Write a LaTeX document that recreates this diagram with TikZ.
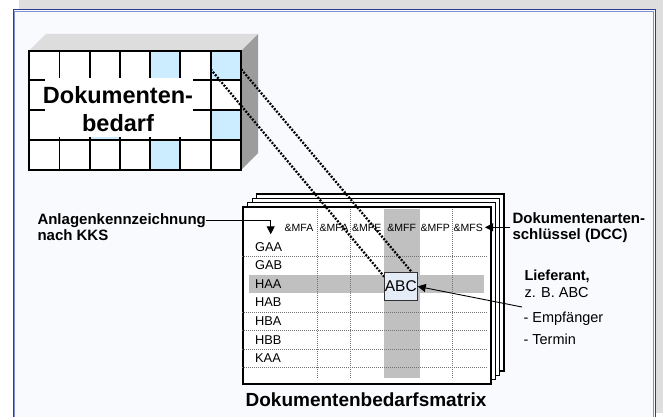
\documentclass[tikz,border=0pt]{standalone}
\usepackage{fontspec}
\setmainfont{Liberation Sans}
\usetikzlibrary{arrows.meta}
\definecolor{framebg}{HTML}{F9FAFE}
\definecolor{frameblue}{HTML}{2E3D8F}
\definecolor{framelight}{HTML}{8090D0}
\definecolor{shadowgray}{HTML}{DEDEDE}
\definecolor{cellblue}{HTML}{CCECFF}
\definecolor{topface}{HTML}{DDDDDD}
\definecolor{sideface}{HTML}{9C9C9C}
\definecolor{bandgray}{HTML}{C0C0C0}
\definecolor{abcfill}{HTML}{E4ECF8}
\begin{document}
\begin{tikzpicture}[x=1pt,y=-1pt,
  gridline/.style={black,line width=1.1pt},
  matline/.style={black!55,line width=0.6pt,dash pattern=on 1pt off 1pt},
  sheet/.style={draw=black,fill=white,line width=1.1pt},
  chain/.style={black,line width=2.3pt,line cap=butt,dash pattern=on 1.9pt off 1.5pt},
  conn/.style={black,line width=0.9pt,-{Triangle[length=8pt,width=8pt]}},
  hdr/.style={font=\fontsize{10.5}{12}\selectfont,inner sep=0pt,anchor=base},
  rowlbl/.style={font=\fontsize{12.8}{14}\selectfont,inner sep=0pt,anchor=base west},
  lbl/.style={font=\bfseries\fontsize{15}{15.8}\selectfont,inner sep=0pt,align=left,anchor=north west},
  side/.style={inner sep=0pt,align=left,anchor=north west},
]
\useasboundingbox (0,0) rectangle (663,417);
\fill[white] (0,0) rectangle (663,417);
\fill[shadowgray] (19,0) rectangle (663,413);
\fill[framebg] (13.5,10) rectangle (655,417);
\draw[frameblue,line width=1pt] (13.5,417) -- (13.5,10) -- (655,10) -- (655,417);
\draw[framelight,line width=0.8pt] (14.8,417) -- (14.8,11.3) -- (653.7,11.3) -- (653.7,417);

% 3D block
\fill[topface] (29,51) -- (46,34) -- (258,34) -- (241,51) -- cycle;
\fill[sideface] (241,51) -- (258,34) -- (258,153) -- (241,170) -- cycle;
\fill[white] (29,51) rectangle (241,170);
\fill[cellblue] (150,51) rectangle (180,80);
\fill[cellblue] (150,140) rectangle (180,170);
\fill[cellblue] (211,51) rectangle (241,80);
\fill[cellblue] (211,110) rectangle (241,140);
\fill[cellblue] (90,110) rectangle (120,140);
\foreach \x in {59.5,90,120,150,180,211} \draw[gridline] (\x,51) -- (\x,170);
\foreach \y in {80,110,140} \draw[gridline] (29,\y) -- (241,\y);
\draw[gridline] (29,51) rectangle (241,170);
\fill[white] (45,78) rectangle (193,136.5);
\node[font=\bfseries\fontsize{23.5}{28}\selectfont,inner sep=0pt,align=center,anchor=north] (bedarf) at (118,86.2) {Dokumenten-\\bedarf};

% sheet stack
\draw[sheet] (256.7,194) rectangle (504,371);
\draw[sheet] (252.3,198.3) rectangle (499.7,375.3);
\draw[sheet] (247.7,202.7) rectangle (495.3,379.7);
\draw[sheet,line width=2pt] (243,207) rectangle (491,384);

\fill[bandgray] (384,209) rectangle (420,378.3);
\fill[bandgray] (249.3,275) rectangle (484,292.7);
\foreach \y in {256,311.8,330.4,349,367.6} \draw[matline] (242,\y) -- (487,\y);
\foreach \x in {317.3,350.7,452.7} \draw[matline] (\x,209) -- (\x,378.3);

\node[hdr] (h1) at (299,231.5) {\&MFA};
\node[hdr] (h2) at (334,231.5) {\&MFA};
\node[hdr] (h3) at (366.7,231.5) {\&MFE};
\node[hdr] (h4) at (401.7,231.5) {\&MFF};
\node[hdr] (h5) at (435.3,231.5) {\&MFP};
\node[hdr] (h6) at (468.3,231.5) {\&MFS};

\node[rowlbl] (r1) at (255,251.1) {GAA};
\node[rowlbl] (r2) at (255,269.7) {GAB};
\node[rowlbl] (r3) at (255,288.3) {HAA};
\node[rowlbl] (r4) at (255,306.9) {HAB};
\node[rowlbl] (r5) at (255,325.5) {HBA};
\node[rowlbl] (r6) at (255,344.1) {HBB};
\node[rowlbl] (r7) at (255,362.7) {KAA};

% dotted links
\coordinate (c1) at (210.7,69.3);
\coordinate (c2) at (241.3,69.3);
\coordinate (e1) at (384.5,277);
\coordinate (e2) at (418,279.5);
\draw[chain] (c1) -- (e1);
\draw[chain] (c2) -- (e2);

\node[draw=black!80,fill=abcfill,line width=0.8pt,minimum width=33pt,minimum height=27.3pt,inner sep=0pt,font=\fontsize{15.5}{17}\selectfont] (abc) at (400.8,286.4) {ABC};

% labels
\node[lbl] (kks) at (37.3,213.5) {Anlagenkennzeichnung\\nach KKS};
\coordinate (k0) at (206,220);
\coordinate (k1) at (270.7,220);
\coordinate (k2) at (270.7,234.3);
\draw[conn] (k0) -- (k1) -- (k2);

\node[lbl] (dcc) at (512.3,212.5) {Dokumentenarten-\\schlüssel (DCC)};
\coordinate (d0) at (510,227.3);
\coordinate (d1) at (485,227.3);
\draw[conn] (d0) -- (d1);

\node[side,font=\fontsize{14.5}{17.3}\selectfont] (lief) at (524.3,269.6) {\textbf{Lieferant,}\\z. B. ABC};
\node[side,font=\fontsize{14.5}{21.6}\selectfont] (emp) at (523.3,312.3) {- Empfänger\\- Termin};
\coordinate (l0) at (522,307);
\draw[conn] (l0) -- (abc.east);

\node[font=\bfseries\fontsize{19}{22}\selectfont,inner sep=0pt,anchor=base] (title) at (366,406.7) {Dokumentenbedarfsmatrix};
\end{tikzpicture}
\end{document}
